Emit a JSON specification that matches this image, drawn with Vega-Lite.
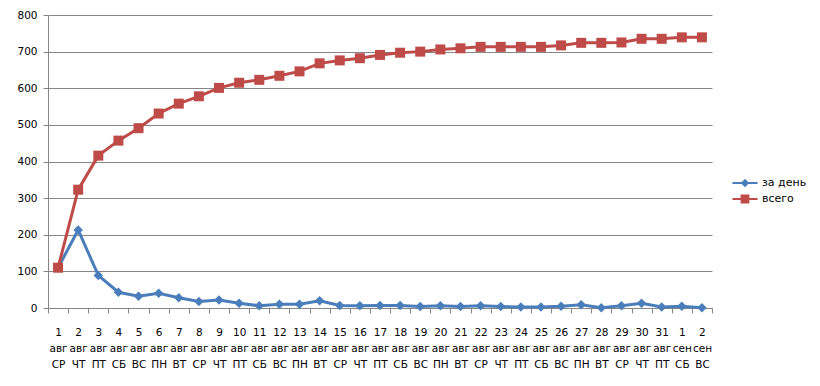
{
  "$schema": "https://vega.github.io/schema/vega-lite/v6.json",
  "width": 664,
  "height": 293,
  "autosize": "none",
  "padding": {"left": 48, "top": 15, "right": 108, "bottom": 78},
  "background": "white",
  "config": {"view": {"stroke": null}, "font": "DejaVu Sans"},
  "data": {"values": [
    {"day": "1|авг|СР", "series": "за день", "value": 110},
    {"day": "2|авг|ЧТ", "series": "за день", "value": 213},
    {"day": "3|авг|ПТ", "series": "за день", "value": 89},
    {"day": "4|авг|СБ", "series": "за день", "value": 43},
    {"day": "5|авг|ВС", "series": "за день", "value": 32},
    {"day": "6|авг|ПН", "series": "за день", "value": 40},
    {"day": "7|авг|ВТ", "series": "за день", "value": 28},
    {"day": "8|авг|СР", "series": "за день", "value": 18},
    {"day": "9|авг|ЧТ", "series": "за день", "value": 22},
    {"day": "10|авг|ПТ", "series": "за день", "value": 13},
    {"day": "11|авг|СБ", "series": "за день", "value": 6},
    {"day": "12|авг|ВС", "series": "за день", "value": 10},
    {"day": "13|авг|ПН", "series": "за день", "value": 10},
    {"day": "14|авг|ВТ", "series": "за день", "value": 20},
    {"day": "15|авг|СР", "series": "за день", "value": 7},
    {"day": "16|авг|ЧТ", "series": "за день", "value": 6},
    {"day": "17|авг|ПТ", "series": "за день", "value": 7},
    {"day": "18|авг|СБ", "series": "за день", "value": 7},
    {"day": "19|авг|ВС", "series": "за день", "value": 4},
    {"day": "20|авг|ПН", "series": "за день", "value": 6},
    {"day": "21|авг|ВТ", "series": "за день", "value": 4},
    {"day": "22|авг|СР", "series": "за день", "value": 6},
    {"day": "23|авг|ЧТ", "series": "за день", "value": 4},
    {"day": "24|авг|ПТ", "series": "за день", "value": 3},
    {"day": "25|авг|СБ", "series": "за день", "value": 3},
    {"day": "26|авг|ВС", "series": "за день", "value": 5},
    {"day": "27|авг|ПН", "series": "за день", "value": 9},
    {"day": "28|авг|ВТ", "series": "за день", "value": 1},
    {"day": "29|авг|СР", "series": "за день", "value": 6},
    {"day": "30|авг|ЧТ", "series": "за день", "value": 13},
    {"day": "31|авг|ПТ", "series": "за день", "value": 3},
    {"day": "1|сен|СБ", "series": "за день", "value": 5},
    {"day": "2|сен|ВС", "series": "за день", "value": 1},
    {"day": "1|авг|СР", "series": "всего", "value": 110},
    {"day": "2|авг|ЧТ", "series": "всего", "value": 323},
    {"day": "3|авг|ПТ", "series": "всего", "value": 416},
    {"day": "4|авг|СБ", "series": "всего", "value": 457},
    {"day": "5|авг|ВС", "series": "всего", "value": 491},
    {"day": "6|авг|ПН", "series": "всего", "value": 531},
    {"day": "7|авг|ВТ", "series": "всего", "value": 558},
    {"day": "8|авг|СР", "series": "всего", "value": 578},
    {"day": "9|авг|ЧТ", "series": "всего", "value": 601},
    {"day": "10|авг|ПТ", "series": "всего", "value": 615},
    {"day": "11|авг|СБ", "series": "всего", "value": 623},
    {"day": "12|авг|ВС", "series": "всего", "value": 634},
    {"day": "13|авг|ПН", "series": "всего", "value": 646},
    {"day": "14|авг|ВТ", "series": "всего", "value": 668},
    {"day": "15|авг|СР", "series": "всего", "value": 676},
    {"day": "16|авг|ЧТ", "series": "всего", "value": 682},
    {"day": "17|авг|ПТ", "series": "всего", "value": 691},
    {"day": "18|авг|СБ", "series": "всего", "value": 697},
    {"day": "19|авг|ВС", "series": "всего", "value": 700},
    {"day": "20|авг|ПН", "series": "всего", "value": 706},
    {"day": "21|авг|ВТ", "series": "всего", "value": 709},
    {"day": "22|авг|СР", "series": "всего", "value": 713},
    {"day": "23|авг|ЧТ", "series": "всего", "value": 713},
    {"day": "24|авг|ПТ", "series": "всего", "value": 713},
    {"day": "25|авг|СБ", "series": "всего", "value": 713},
    {"day": "26|авг|ВС", "series": "всего", "value": 717},
    {"day": "27|авг|ПН", "series": "всего", "value": 724},
    {"day": "28|авг|ВТ", "series": "всего", "value": 724},
    {"day": "29|авг|СР", "series": "всего", "value": 725},
    {"day": "30|авг|ЧТ", "series": "всего", "value": 735},
    {"day": "31|авг|ПТ", "series": "всего", "value": 735},
    {"day": "1|сен|СБ", "series": "всего", "value": 739},
    {"day": "2|сен|ВС", "series": "всего", "value": 739}
  ]},
  "encoding": {
    "x": {
      "field": "day", "type": "ordinal", "sort": null, "bandPosition": 0.5,
      "scale": {"type": "band", "paddingInner": 0, "paddingOuter": 0},
      "axis": {
        "title": null, "grid": false, "tickBand": "extent", "ticks": true, "tickSize": 5,
        "tickColor": "#868686", "domainColor": "#868686", "labelAngle": 0,
        "labelExpr": "datum.value ? split(datum.value, '|') : ''", "labelLineHeight": 16,
        "labelBaseline": "top", "labelPadding": 14, "labelFontSize": 10.5,
        "labelColor": "#000000", "labelOverlap": false, "labelAlign": "center"
      }
    },
    "y": {
      "field": "value", "type": "quantitative",
      "scale": {"domain": [0, 800], "nice": false},
      "axis": {
        "title": null, "values": [0, 100, 200, 300, 400, 500, 600, 700, 800],
        "grid": true, "gridColor": "#868686", "domainColor": "#868686",
        "tickColor": "#868686", "tickSize": 5, "labelPadding": 6,
        "labelFontSize": 10.5, "labelColor": "#000000"
      }
    },
    "color": {
      "field": "series", "type": "nominal",
      "scale": {"domain": ["за день", "всего"], "range": ["#4A7EBB", "#BE4B48"]},
      "legend": {
        "title": null, "orient": "none", "legendX": 686, "legendY": 157, "padding": 0,
        "symbolSize": 484, "rowPadding": 0, "labelOffset": 6, "labelFontSize": 11,
        "labelColor": "#000000",
        "encode": {"symbols": {"update": {
          "shape": {"signal": "datum.value == 'за день' ? 'M-1.14,-0.1H1.14V0.1H-1.14Z M0,-0.38L0.38,0L0,0.38L-0.38,0Z' : 'M-1.14,-0.1H1.14V0.1H-1.14Z M-0.4,-0.4H0.4V0.4H-0.4Z'"},
          "fill": {"signal": "datum.value == 'за день' ? '#4A7EBB' : '#BE4B48'"},
          "strokeWidth": {"value": 0}
        }}}
      }
    }
  },
  "layer": [
    {"mark": {"type": "line", "strokeWidth": 3}},
    {
      "transform": [{"filter": "datum.series == 'за день'"}],
      "mark": {"type": "point", "filled": true, "opacity": 1, "shape": "diamond", "size": 90}
    },
    {
      "transform": [{"filter": "datum.series == 'всего'"}],
      "mark": {"type": "point", "filled": true, "opacity": 1, "shape": "square", "size": 100}
    }
  ]
}
